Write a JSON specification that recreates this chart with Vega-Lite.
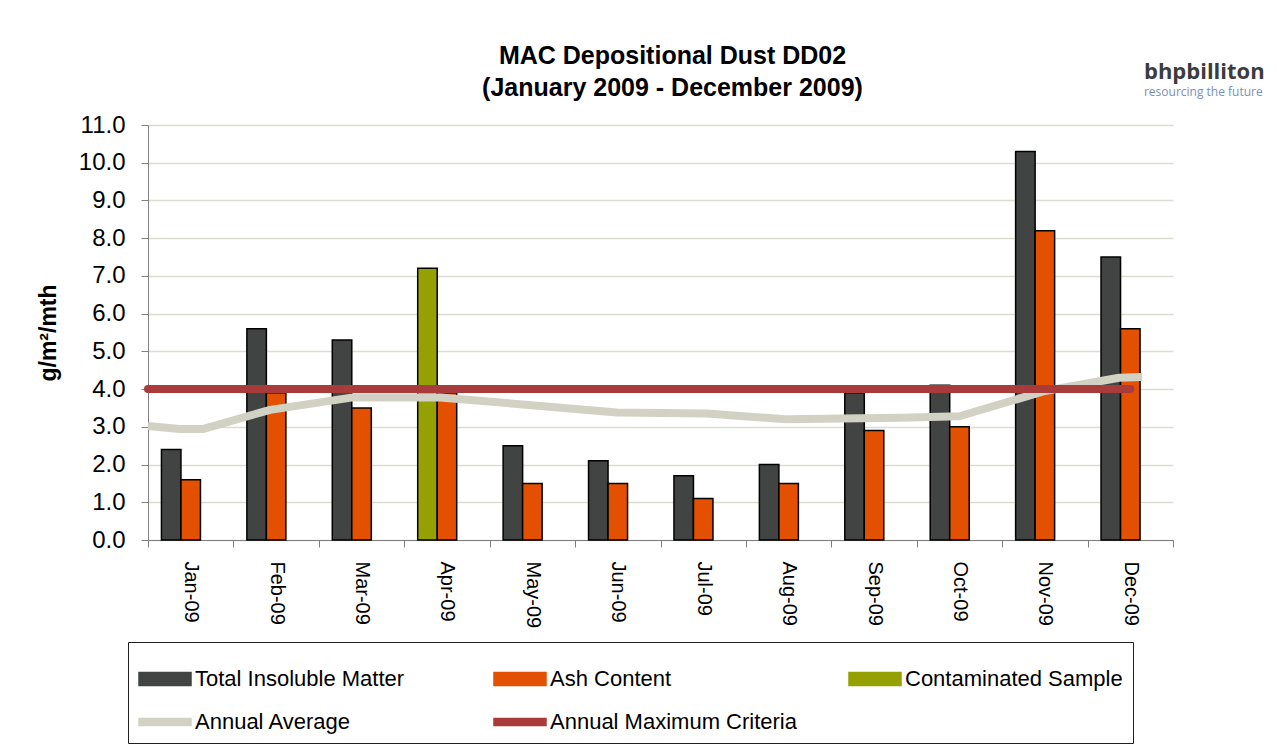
{
  "$schema": "https://vega.github.io/schema/vega-lite/v6.json",
  "autosize": "none",
  "width": 1025,
  "height": 415,
  "padding": {"left": 148, "top": 125, "right": 104, "bottom": 216},
  "background": "white",
  "config": {
    "font": "Liberation Sans",
    "view": {"stroke": null},
    "axis": {"labelColor": "black", "titleColor": "black", "labelFont": "Liberation Sans", "titleFont": "Liberation Sans"}
  },
  "title": {
    "text": ["MAC Depositional Dust DD02", "(January 2009 - December 2009)"],
    "fontSize": 25,
    "fontWeight": "bold",
    "font": "Liberation Sans",
    "color": "black",
    "lineHeight": 32,
    "offset": -40,
    "dx": 12
  },
  "datasets": {
    "bars": [
      {"month": "Jan-09", "series": "Total Insoluble Matter", "slot": "1", "value": 2.4},
      {"month": "Jan-09", "series": "Ash Content", "slot": "2", "value": 1.6},
      {"month": "Feb-09", "series": "Total Insoluble Matter", "slot": "1", "value": 5.6},
      {"month": "Feb-09", "series": "Ash Content", "slot": "2", "value": 3.9},
      {"month": "Mar-09", "series": "Total Insoluble Matter", "slot": "1", "value": 5.3},
      {"month": "Mar-09", "series": "Ash Content", "slot": "2", "value": 3.5},
      {"month": "Apr-09", "series": "Contaminated Sample", "slot": "1", "value": 7.2},
      {"month": "Apr-09", "series": "Ash Content", "slot": "2", "value": 3.9},
      {"month": "May-09", "series": "Total Insoluble Matter", "slot": "1", "value": 2.5},
      {"month": "May-09", "series": "Ash Content", "slot": "2", "value": 1.5},
      {"month": "Jun-09", "series": "Total Insoluble Matter", "slot": "1", "value": 2.1},
      {"month": "Jun-09", "series": "Ash Content", "slot": "2", "value": 1.5},
      {"month": "Jul-09", "series": "Total Insoluble Matter", "slot": "1", "value": 1.7},
      {"month": "Jul-09", "series": "Ash Content", "slot": "2", "value": 1.1},
      {"month": "Aug-09", "series": "Total Insoluble Matter", "slot": "1", "value": 2.0},
      {"month": "Aug-09", "series": "Ash Content", "slot": "2", "value": 1.5},
      {"month": "Sep-09", "series": "Total Insoluble Matter", "slot": "1", "value": 3.9},
      {"month": "Sep-09", "series": "Ash Content", "slot": "2", "value": 2.9},
      {"month": "Oct-09", "series": "Total Insoluble Matter", "slot": "1", "value": 4.1},
      {"month": "Oct-09", "series": "Ash Content", "slot": "2", "value": 3.0},
      {"month": "Nov-09", "series": "Total Insoluble Matter", "slot": "1", "value": 10.3},
      {"month": "Nov-09", "series": "Ash Content", "slot": "2", "value": 8.2},
      {"month": "Dec-09", "series": "Total Insoluble Matter", "slot": "1", "value": 7.5},
      {"month": "Dec-09", "series": "Ash Content", "slot": "2", "value": 5.6}
    ],
    "average": [
      {"pos": 0, "value": 3.02, "series": "Annual Average"},
      {"pos": 0.37, "value": 2.94, "series": "Annual Average"},
      {"pos": 0.64, "value": 2.94, "series": "Annual Average"},
      {"pos": 1.43, "value": 3.45, "series": "Annual Average"},
      {"pos": 2.4, "value": 3.78, "series": "Annual Average"},
      {"pos": 3.42, "value": 3.78, "series": "Annual Average"},
      {"pos": 5.49, "value": 3.38, "series": "Annual Average"},
      {"pos": 6.54, "value": 3.35, "series": "Annual Average"},
      {"pos": 7.47, "value": 3.2, "series": "Annual Average"},
      {"pos": 8.8, "value": 3.24, "series": "Annual Average"},
      {"pos": 9.5, "value": 3.28, "series": "Annual Average"},
      {"pos": 10.5, "value": 3.95, "series": "Annual Average"},
      {"pos": 11.37, "value": 4.3, "series": "Annual Average"},
      {"pos": 11.64, "value": 4.32, "series": "Annual Average"}
    ],
    "criteria": [
      {"pos": 0, "value": 4.0, "series": "Annual Maximum Criteria"},
      {"pos": 11.5, "value": 4.0, "series": "Annual Maximum Criteria"}
    ],
    "logo": [
      {"label": "bhpbilliton", "pos": 11.66, "value": 12.22}
    ],
    "tagline": [
      {"label": "resourcing the future", "pos": 11.66, "value": 11.77}
    ]
  },
  "resolve": {"scale": {"x": "independent"}, "axis": {"x": "independent"}},
  "encoding": {
    "y": {
      "field": "value",
      "type": "quantitative",
      "scale": {"domain": [0, 11], "nice": false, "zero": true},
      "axis": {
        "values": [0, 1, 2, 3, 4, 5, 6, 7, 8, 9, 10, 11],
        "format": ".1f",
        "labelOverlap": false,
        "title": "g/m²/mth",
        "titleFontSize": 23,
        "titleFontWeight": "bold",
        "titlePadding": 18,
        "labelFontSize": 24,
        "labelPadding": 16,
        "tickSize": 7,
        "tickColor": "#808080",
        "domainColor": "#808080",
        "gridColor": "#DCDCD0",
        "gridWidth": 1.5
      }
    }
  },
  "layer": [
    {
      "data": {"name": "bars"},
      "mark": {"type": "bar", "stroke": "black", "strokeWidth": 1.5},
      "encoding": {
        "x": {
          "field": "month",
          "type": "nominal",
          "sort": null,
          "scale": {"paddingInner": 0, "paddingOuter": 0},
          "axis": {
            "title": null,
            "labelAngle": 90,
            "labelFontSize": 20,
            "labelPadding": 14,
            "tickBand": "extent",
            "tickSize": 7,
            "tickColor": "#808080",
            "domainColor": "#808080",
            "grid": false
          }
        },
        "xOffset": {
          "field": "slot",
          "type": "nominal",
          "scale": {"domain": ["1", "2", "3"], "paddingInner": 0, "paddingOuter": 0.69}
        },
        "color": {
          "field": "series",
          "type": "nominal",
          "scale": {
            "domain": ["Total Insoluble Matter", "Ash Content", "Contaminated Sample", "Annual Average", "Annual Maximum Criteria"],
            "range": ["#414442", "#E35000", "#94A100", "#D2D2C4", "#AA3B3B"]
          },
          "legend": {
            "title": null,
            "orient": "none",
            "legendX": -20,
            "legendY": 517,
            "direction": "horizontal",
            "columns": 3,
            "gridAlign": "all",
            "columnPadding": 49,
            "rowPadding": 5,
            "padding": 10,
            "strokeColor": "#202020",
            "labelFontSize": 22,
            "labelFont": "Liberation Sans",
            "labelColor": "black",
            "labelOffset": 3,
            "labelLimit": 400,
            "symbolSize": 2704,
            "symbolType": {"expr": "(datum.label == 'Annual Average' || datum.label == 'Annual Maximum Criteria') ? 'M-1,-0.13H1V0.13H-1Z' : 'M-1,-0.25H1V0.25H-1Z'"},
            "symbolStrokeColor": {"expr": "(datum.label == 'Annual Average' || datum.label == 'Annual Maximum Criteria') ? 'transparent' : 'black'"},
            "symbolStrokeWidth": 1.5,
            "symbolOpacity": 1,
            "encode": {
              "legend": {"strokeWidth": {"value": 1.5}}
            }
          }
        }
      }
    },
    {
      "encoding": {
        "x": {"field": "pos", "type": "quantitative", "scale": {"domain": [0, 12], "nice": false, "zero": true}, "axis": null}
      },
      "layer": [
        {
          "data": {"name": "average"},
          "mark": {"type": "line", "strokeWidth": 8, "strokeCap": "butt", "strokeJoin": "round"},
          "encoding": {
            "color": {"field": "series", "type": "nominal", "legend": null}
          }
        },
        {
          "data": {"name": "criteria"},
          "mark": {"type": "line", "strokeWidth": 8, "strokeCap": "round"},
          "encoding": {
            "color": {"field": "series", "type": "nominal", "legend": null}
          }
        },
        {
          "data": {"name": "logo"},
          "mark": {"type": "text", "align": "left", "baseline": "alphabetic", "fontSize": 22, "fontWeight": "bold", "font": "Open Sans", "fill": "#3C3C3C"},
          "encoding": {
            "text": {"field": "label", "type": "nominal"}
          }
        },
        {
          "data": {"name": "tagline"},
          "mark": {"type": "text", "align": "left", "baseline": "alphabetic", "fontSize": 12, "font": "Open Sans", "fill": "#7C8FB2"},
          "encoding": {
            "text": {"field": "label", "type": "nominal"}
          }
        }
      ]
    }
  ]
}
